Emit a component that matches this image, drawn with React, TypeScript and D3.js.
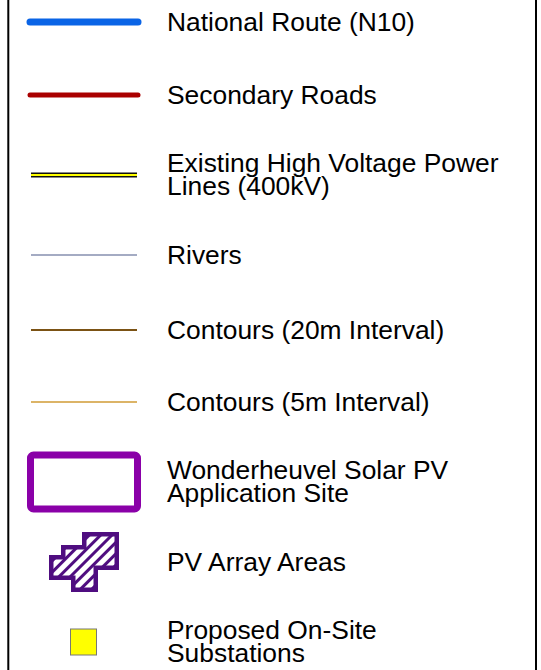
import * as d3 from "d3";
import { useEffect, useRef } from "react";

// legend entries, top to bottom
const labels = [
  ["National Route (N10)"],
  ["Secondary Roads"],
  ["Existing High Voltage Power", "Lines (400kV)"],
  ["Rivers"],
  ["Contours (20m Interval)"],
  ["Contours (5m Interval)"],
  ["Wonderheuvel Solar PV", "Application Site"],
  ["PV Array Areas"],
  ["Proposed On-Site", "Substations"],
];
const symbols = ["road", "road", "power", "line", "line", "line", "site", "array", "sub"];
const colors = ["#0a64e6", "#aa0000", "#ffff00", "#4a5888", "#7b5214", "#d19b35", "#8a00a8", "#4f0d80", "#ffff00"];
const widths = [7, 5, 2, 1.2, 2, 1.5, 7, 4.5, 1];

// row centres
const rowY = [22, 95, 175, 255, 330, 402, 482, 562, 642];

const W = 541;
const H = 670;

// PV array outline
const arrayShape: [number, number][] = [
  [82, 532], [119, 532], [119, 570], [98, 570], [98, 592], [71, 592],
  [71, 580], [49, 580], [49, 555], [61, 555], [61, 545], [82, 545],
];

const App = () => {
  const ref = useRef<SVGSVGElement>(null);

  useEffect(() => {
    const svg = d3.select(ref.current);
    svg.selectAll("*").remove();

    const x = d3.scaleLinear().domain([0, 1]).range([28, 140]);
    const defs = svg.append("defs");

    const pat = defs.append("pattern")
      .attr("id", "hatch")
      .attr("patternUnits", "userSpaceOnUse")
      .attr("width", 8).attr("height", 8)
      .attr("patternTransform", "rotate(45)");
    pat.append("rect").attr("width", 8).attr("height", 8).attr("fill", "#fff");
    pat.append("rect").attr("width", 3).attr("height", 8).attr("fill", colors[7]);

    defs.append("clipPath").attr("id", "arrClip")
      .append("polygon").attr("points", arrayShape.map(p => p.join(",")).join(" "));

    svg.append("rect").attr("width", W).attr("height", H).attr("fill", "#fff");

    // frame (top and bottom run off the page)
    svg.append("rect")
      .attr("x", 8.3).attr("y", -10)
      .attr("width", 527.7).attr("height", H + 20)
      .attr("fill", "none").attr("stroke", "#000").attr("stroke-width", 2);

    symbols.forEach((s, i) => {
      const y = rowY[i];
      const g = svg.append("g");
      if (s === "road") {
        g.append("line")
          .attr("x1", x(0) + 2).attr("x2", x(1) - 2).attr("y1", y).attr("y2", y)
          .attr("stroke", colors[i]).attr("stroke-width", widths[i])
          .attr("stroke-linecap", "round");
      } else if (s === "power") {
        g.append("line")
          .attr("x1", x(0) + 3).attr("x2", x(1) - 3).attr("y1", y).attr("y2", y)
          .attr("stroke", "#111").attr("stroke-width", 5);
        g.append("line")
          .attr("x1", x(0) + 3).attr("x2", x(1) - 3).attr("y1", y).attr("y2", y)
          .attr("stroke", colors[i]).attr("stroke-width", widths[i]);
      } else if (s === "line") {
        g.append("line")
          .attr("x1", x(0) + 3).attr("x2", x(1) - 3).attr("y1", y).attr("y2", y)
          .attr("stroke", colors[i]).attr("stroke-width", widths[i]);
      } else if (s === "site") {
        g.append("rect")
          .attr("x", x(0) + 2.5).attr("y", y - 27)
          .attr("width", 107).attr("height", 54)
          .attr("rx", 3)
          .attr("fill", "#fff").attr("stroke", colors[i]).attr("stroke-width", widths[i]);
      } else if (s === "array") {
        g.append("polygon")
          .attr("points", arrayShape.map(p => p.join(",")).join(" "))
          .attr("clip-path", "url(#arrClip)")
          .attr("fill", "url(#hatch)")
          .attr("stroke", colors[i]).attr("stroke-width", widths[i] * 2);
      } else if (s === "sub") {
        g.append("rect")
          .attr("x", 70.5).attr("y", y - 13)
          .attr("width", 26).attr("height", 26)
          .attr("fill", colors[i]).attr("stroke", "#777").attr("stroke-width", widths[i]);
      }

      const lines = labels[i];
      const t = svg.append("text")
        .attr("x", 167)
        .attr("font-family", "'Liberation Sans', Arial, sans-serif")
        .attr("font-size", 26.4)
        .attr("fill", "#000");
      lines.forEach((l, j) => {
        const base = lines.length === 1 ? y + 9 : y - 3 + j * 23;
        t.append("tspan").attr("x", 167).attr("y", base).text(l);
      });
    });
  }, []);

  return (
    <div style={{ position: "absolute", left: 0, top: 0 }}>
      <svg ref={ref} width={W} height={H} style={{ display: "block" }} />
    </div>
  );
};

export default App;
